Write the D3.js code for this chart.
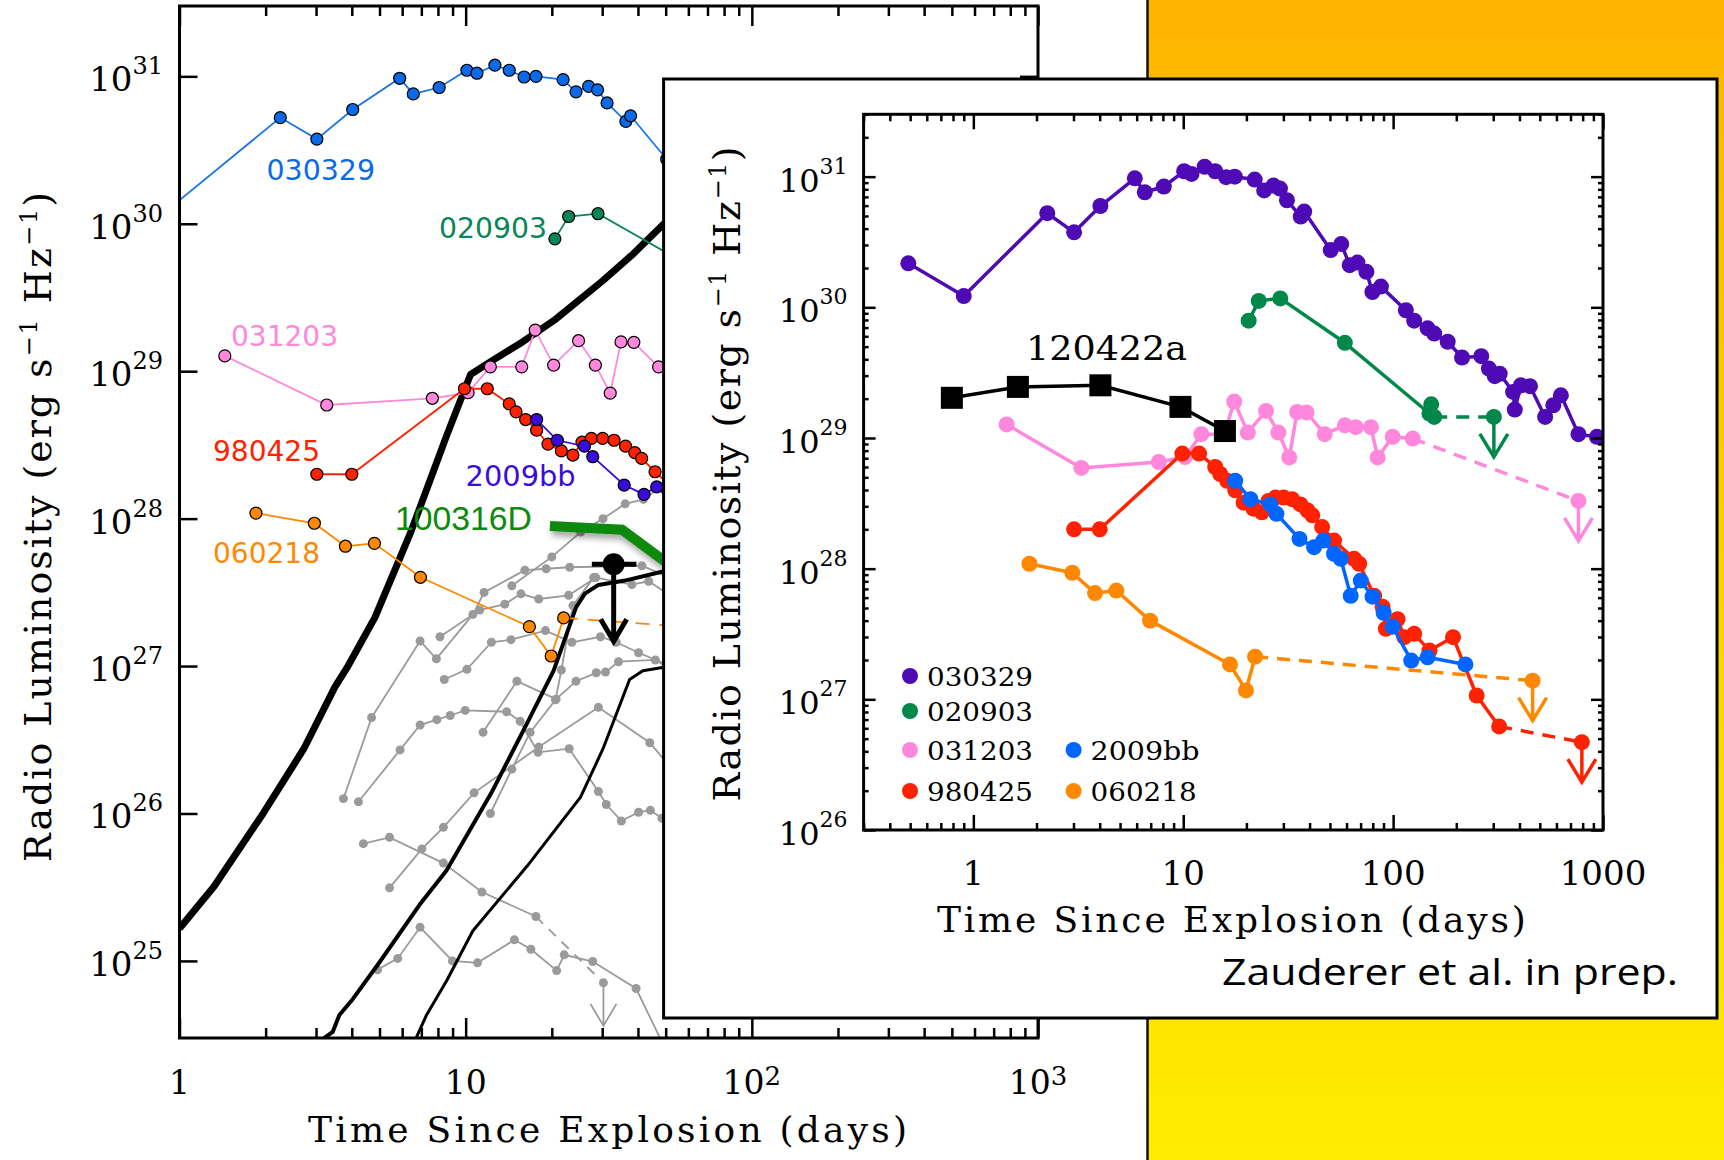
<!DOCTYPE html>
<html>
<head>
<meta charset="utf-8">
<script src="https://cdn.jsdelivr.net/npm/d3@7"></script>
<style>
body{margin:0;background:#fff}
svg{display:block}
</style>
</head>
<body>
<svg id="slide" width="1724" height="1160"></svg>
<script>
//* data: [days since explosion, radio luminosity]

var grb030329 = [[0.49,2.17e30],[0.9,1.22e30],[2.25,5.25e30],[3.02,3.75e30],[4.03,5.96e30],[5.88,9.7e30],[6.56,7.6e30],[8.08,8.4e30],[10.1,1.1e31],[10.95,1.05e31],[12.65,1.19e31],[14.2,1.1e31],[16.0,9.9e30],[17.6,1.0e31],[21.9,9.5e30],[24.3,7.85e30],[26.9,8.55e30],[28.9,8.1e30],[31.2,6.6e30],[36.3,4.95e30],[37.7,5.4e30],[50.4,2.74e30],[56.6,3.05e30],[62.1,2.1e30],[67.6,2.2e30],[74.6,1.87e30],[79.7,1.31e30],[87.5,1.44e30],[115,9.5e29],[126,7.9e29],[146,6.9e29],[157,6.3e29],[182,5.45e29],[213,4.13e29],[263,4.23e29],[286,3.4e29],[305,2.97e29],[322,3.1e29],[373,2.25e29],[380,1.65e29],[406,2.53e29],[449,2.49e29],[530,1.45e29],[580,1.78e29],[630,2.12e29],[764,1.07e29],[935,1.02e29]]
var grb020903 = [[20.5,7.9e29],[22.9,1.12e30],[29.0,1.17e30],[58.9,5.35e29],[149,1.54e29],[152,1.81e29],[157,1.45e29]]
var grb031203 = [[1.44,1.27e29],[3.27,5.9e28],[7.65,6.55e28],[10.2,7.15e28],[12.2,1.07e29],[15.7,1.07e29],[17.5,1.9e29],[20.3,1.1e29],[24.8,1.61e29],[28.4,1.1e29],[32,7.1e28],[34.9,1.58e29],[38.7,1.57e29],[47.2,1.07e29],[58.9,1.25e29],[66.4,1.21e29],[78.4,1.21e29],[84.4,7.1e28],[99.5,1.02e29],[124,9.9e28]]
var grb980425 = [[3.02,2.0e28],[4.0,2.0e28],[9.9,7.6e28],[11.9,7.6e28],[14.2,6.0e28],[15,5.3e28],[16.2,4.7e28],[17.7,3.98e28],[19.4,3.2e28],[21.6,2.88e28],[23.7,2.7e28],[25.5,3.3e28],[27.5,3.5e28],[30.1,3.5e28],[33,3.4e28],[36.2,3.1e28],[39,2.8e28],[41.2,2.56e28],[45.9,2.08e28],[52.3,1.64e28],[65.2,1.19e28],[68.9,1.09e28],[81.3,6.2e27],[89.1,5.1e27],[92.4,3.47e27],[105,4.1e27],[113,2.99e27],[126,3.17e27],[149,2.36e27],[193,2.99e27],[250,1.07e27],[320,6.2e26]]
var sn2009bb = [[17.7,4.7e28],[20.9,3.4e28],[26,3.1e28],[27.8,2.63e28],[35.8,1.69e28],[42,1.46e28],[46.5,1.64e28],[52.3,1.3e28],[56.3,1.19e28],[62.8,6.2e27],[70.1,8.1e27],[79.8,6.1e27],[90.1,4.6e27],[99.5,3.6e27],[122,1.98e27],[146,2.1e27],[221,1.85e27]]
var grb060218 = [[1.85,1.09e28],[2.96,9.3e27],[3.8,6.5e27],[4.8,6.8e27],[6.95,4.0e27],[16.7,1.85e27],[19.9,1.17e27],[22,2.12e27]]
var grb120422a = [[0.79,2.03e29],[1.63,2.46e29],[4.03,2.53e29],[9.7,1.73e29],[15.8,1.13e29]]

//* upper limits (dashed line from the last detection)
var lim020903 = [302,1.45e29]
var lim031203 = [764,3.3e28]
var lim980425 = [793,4.7e26]
var lim060218 = [462,1.39e27]

//* back figure only
var grb100316D = [[19.7,8.9e27],[35.2,8.4e27],[49.2,5.2e27],[80,3.0e27]]
var blackLimit = [32.9,4.9e27,27.6,39.5] // t, L, t low, t high
var modelThick = [[1,1.66e25],[1.32,3.2e25],[1.96,1.0e26],[2.72,2.75e26],[3.49,7.2e26],[3.88,1.0e27],[4.82,2.14e27],[6.43,8.1e27],[8.6,3.7e28],[10.4,9.5e28],[12.3,1.17e29],[15.8,1.58e29],[20.3,2.2e29],[30.1,4.1e29],[38.7,6.3e29],[49.3,1.0e30],[70,1.6e30]]
var modelA = [[3.13,2.9e24],[3.43,3.3e24],[3.62,4.3e24],[4.03,5.5e24],[5.0,9.8e24],[6.9,2.4e25],[8.57,4.1e25],[12.3,1.38e26],[16.4,4.1e26],[20.3,9.3e26],[24.3,2.5e27],[26.1,3.1e27],[29.1,3.55e27],[36,3.8e27],[49.3,4.4e27],[70,5.0e27]]
var modelB = [[6.66,2.9e24],[7.3,4.3e24],[8.57,7.3e24],[10.6,1.6e25],[16.4,4.4e25],[25.2,1.29e26],[30.2,2.75e26],[37.4,8.1e26],[41.6,9.3e26],[49.3,9.8e26],[70,1.0e27]]
var grayTracks = [
  [[3.74,1.26e26],[4.69,4.47e26],[6.93,1.48e27],[7.9,1.12e27],[10.6,2.24e27],[11.6,3.16e27],[16.1,4.47e27],[19.1,4.57e27],[23.1,4.68e27],[41.3,4.79e27],[60,3.5e27]],
  [[14.5,3.5e27],[20,5.5e27],[25.2,8.1e27],[30.2,1.0e28],[36.1,1.26e28],[41.8,1.35e28],[50,1.74e28]],
  [[8.13,1.58e27],[11.2,2.4e27],[13.7,2.63e27],[15.6,3.09e27],[18,2.85e27],[22.9,3.02e27],[28.5,3.98e27],[38.1,3.57e27],[43.6,3.76e27],[55,2.8e27]],
  [[8.42,8.1e26],[10.1,9.5e26],[12.3,1.45e27],[14.4,1.51e27],[19,1.74e27],[23.5,1.45e27],[29.6,1.58e27],[33.6,1.45e27],[40.2,1.23e27],[52,1.0e27]],
  [[5.42,3.13e25],[7.03,5.75e25],[8.36,8.05e25],[10.7,1.38e26],[18,2.82e26],[29.1,5.25e26],[44,3.02e26],[58,1.6e26]],
  [[4.22,1.2e26],[5.9,2.7e26],[6.93,3.98e26],[7.93,4.33e26],[8.83,4.62e26],[9.96,5.0e26],[13.9,4.9e26],[15.5,4.22e26],[17.9,2.6e26],[23,2.75e26],[29.1,1.41e26],[31,1.15e26],[35,8.9e25],[40.2,1.02e26],[44.2,1.05e26],[48.5,9.3e25],[60,7e25]],
  [[11.5,3.55e26],[15.1,7.9e26],[20.7,5.96e26],[24.3,7.9e26],[28.6,9.0e26],[30.8,9.1e26],[34.2,1.07e27],[46,1.1e27],[60,8e26]],
  [[12.2,1.0e26],[14.5,2.0e26],[16.8,3.55e26],[20.6,5.9e26],[21.6,9.4e26],[23.7,2.57e27],[28,3.98e27]],
  [[4.92,8.7e24],[5.79,1.04e25],[6.93,1.69e25],[8.99,1.0e25],[11,9.7e24],[14.8,1.39e25],[16.9,1.2e25],[20.8,8.6e24],[22.1,1.1e25],[27.8,9.9e24],[39.4,6.5e24],[60,1.2e24]]
]
var grayLimited = [[4.39,6.24e25],[5.42,6.89e25],[8.36,4.61e25],[11.4,2.93e25],[17.6,2.0e25]]
var grayLimit = [30.3,7.1e24]

var legendNames = ["030329","020903","031203","980425","2009bb","060218"]

var serif = "'DejaVu Serif', serif"
var sans = "'DejaVu Sans', sans-serif"

var svg = d3.select("#slide")
var defs = svg.append("defs")

//* slide background: orange panel on the right
var grad = defs.append("linearGradient").attr("id","panelGrad").attr("x1",0).attr("y1",0).attr("x2",0).attr("y2",1)
grad.append("stop").attr("offset","0").attr("stop-color","#ffb400")
grad.append("stop").attr("offset","1").attr("stop-color","#ffec00")
svg.append("rect").attr("x",1148).attr("y",0).attr("width",576).attr("height",1160).attr("fill","url(#panelGrad)")
svg.append("line").attr("x1",1147.5).attr("x2",1147.5).attr("y1",0).attr("y2",1160).attr("stroke","#111").attr("stroke-width",2.5)

var shadow = defs.append("filter").attr("id","shadow").attr("x","-20%").attr("y","-60%").attr("width","140%").attr("height","220%")
shadow.append("feDropShadow").attr("dx",2).attr("dy",5).attr("stdDeviation",3).attr("flood-color","#000").attr("flood-opacity",0.35)

//* tools
function tickSets(lo, hi){
    var major = [], minor = []
    for (var e = Math.floor(Math.log10(lo)); e <= Math.ceil(Math.log10(hi)); e++) {
        for (var m = 1; m < 10; m++) {
            var v = m * Math.pow(10, e)
            if (v < lo * 0.999 || v > hi * 1.001) continue
            if (m == 1) major.push(v); else minor.push(v)
        }
    }
    return {major: major, minor: minor}
}

function frameTicks(g, x, y, o){
    var xt = tickSets(x.domain()[0], x.domain()[1]), yt = tickSets(y.domain()[0], y.domain()[1])
    var x0 = x.range()[0], x1 = x.range()[1], y0 = y.range()[0], y1 = y.range()[1]
    var add = function(axis, tr){
        var a = g.append("g").attr("transform", tr).call(axis)
        a.select(".domain").remove()
        a.selectAll(".tick line").attr("stroke","#000").attr("stroke-width", o.tw)
    }
    add(d3.axisBottom(x).tickValues(xt.major).tickSize(-o.xMaj).tickFormat(""), "translate(0,"+y0+")")
    add(d3.axisBottom(x).tickValues(xt.minor).tickSize(-o.xMin).tickFormat(""), "translate(0,"+y0+")")
    add(d3.axisTop(x).tickValues(xt.major).tickSize(-o.xMaj).tickFormat(""), "translate(0,"+y1+")")
    add(d3.axisTop(x).tickValues(xt.minor).tickSize(-o.xMin).tickFormat(""), "translate(0,"+y1+")")
    add(d3.axisLeft(y).tickValues(yt.major).tickSize(-o.yMaj).tickFormat(""), "translate("+x0+",0)")
    add(d3.axisRight(y).tickValues(yt.major).tickSize(-o.yMaj).tickFormat(""), "translate("+x1+",0)")
    if (o.yMin) {
        add(d3.axisLeft(y).tickValues(yt.minor).tickSize(-o.yMin).tickFormat(""), "translate("+x0+",0)")
        add(d3.axisRight(y).tickValues(yt.minor).tickSize(-o.yMin).tickFormat(""), "translate("+x1+",0)")
    }
    g.append("rect").attr("x",x0).attr("y",y1).attr("width",x1-x0).attr("height",y0-y1)
        .attr("fill","none").attr("stroke","#000").attr("stroke-width",o.fw)
}

function limitArrow(g, x, y, len, arm, armH, color, w){
    g.append("path")
        .attr("d","M"+x+","+y+"V"+(y+len)+"M"+(x-arm)+","+(y+len-armH)+"L"+x+","+(y+len)+"L"+(x+arm)+","+(y+len-armH))
        .attr("fill","none").attr("stroke",color).attr("stroke-width",w)
}

function powText(g, x, y, anchor, base, exp, fs, efs, edy){
    var t = g.append("text").attr("x",x).attr("y",y).attr("text-anchor",anchor)
        .attr("font-family",serif).attr("font-size",fs).attr("fill","#000").text(base)
    if (exp) t.append("tspan").attr("dy",edy).attr("font-size",efs).text(exp)
    return t
}

function lumTitle(g, x, y, len){
    var t = g.append("text").attr("transform","translate("+x+","+y+") rotate(-90)")
        .attr("text-anchor","middle").attr("font-family",serif).attr("font-size",38)
        .attr("textLength",len).attr("lengthAdjust","spacing")
    t.append("tspan").text("Radio Luminosity (erg s")
    t.append("tspan").attr("dy",-14).attr("font-size",24).text("\u22121")
    t.append("tspan").attr("dy",14).text(" Hz")
    t.append("tspan").attr("dy",-14).attr("font-size",24).text("\u22121")
    t.append("tspan").attr("dy",14).text(")")
}

//* ================= back figure =================
var bx = d3.scaleLog().domain([1, 1000]).range([179.5, 1038])
var by = d3.scaleLog().domain([3e24, 3e31]).range([1038, 6])
var bLine = d3.line().x(function(d){return bx(d[0])}).y(function(d){return by(d[1])})

var back = svg.append("g")
defs.append("clipPath").attr("id","backClip").append("rect").attr("x",179.5).attr("y",6).attr("width",858.5).attr("height",1032)
var bplot = back.append("g").attr("clip-path","url(#backClip)")

// gray comparison sample
grayTracks.forEach(function(tr){
    bplot.append("path").attr("d",bLine(tr)).attr("fill","none").attr("stroke","#9a9a9a").attr("stroke-width",1.8)
    bplot.append("g").selectAll("circle").data(tr).enter().append("circle")
        .attr("cx",function(d){return bx(d[0])}).attr("cy",function(d){return by(d[1])}).attr("r",4.5).attr("fill","#9a9a9a")
})
bplot.append("path").attr("d",bLine(grayLimited)).attr("fill","none").attr("stroke","#9a9a9a").attr("stroke-width",1.8)
bplot.append("path").attr("d",bLine([grayLimited[grayLimited.length-1], grayLimit])).attr("fill","none")
    .attr("stroke","#9a9a9a").attr("stroke-width",1.8).attr("stroke-dasharray","10,8")
bplot.append("g").selectAll("circle").data(grayLimited.concat([grayLimit])).enter().append("circle")
    .attr("cx",function(d){return bx(d[0])}).attr("cy",function(d){return by(d[1])}).attr("r",4.5).attr("fill","#9a9a9a")
limitArrow(bplot, bx(grayLimit[0]), by(grayLimit[1]), 43, 13, 22, "#9a9a9a", 1.8)

// model curves
bplot.append("path").attr("d",bLine(modelThick)).attr("fill","none").attr("stroke","#000").attr("stroke-width",7).attr("stroke-linejoin","round")
bplot.append("path").attr("d",bLine(modelA)).attr("fill","none").attr("stroke","#000").attr("stroke-width",4).attr("stroke-linejoin","round")
bplot.append("path").attr("d",bLine(modelB)).attr("fill","none").attr("stroke","#000").attr("stroke-width",3).attr("stroke-linejoin","round")

function backSeries(data, lim, fill, stroke){
    if (lim) bplot.append("path").attr("d",bLine([data[data.length-1], lim])).attr("fill","none")
        .attr("stroke",stroke).attr("stroke-width",1.8).attr("stroke-dasharray","14,10")
    bplot.append("path").attr("d",bLine(data)).attr("fill","none").attr("stroke",stroke).attr("stroke-width",1.8)
    bplot.append("g").selectAll("circle").data(data).enter().append("circle")
        .attr("cx",function(d){return bx(d[0])}).attr("cy",function(d){return by(d[1])}).attr("r",6)
        .attr("fill",fill).attr("stroke","#000").attr("stroke-width",1.2)
}
backSeries(grb030329, null, "#0a6ae8", "#1a75ea")
backSeries(grb020903, lim020903, "#0a8555", "#0a8555")
backSeries(grb031203, lim031203, "#ff88dd", "#ff88dd")
backSeries(grb980425, lim980425, "#ff2200", "#ff2200")
backSeries(sn2009bb, null, "#3a0cdc", "#3a0cdc")
backSeries(grb060218, lim060218, "#ff8800", "#ff8800")

bplot.append("path").attr("d",bLine(grb100316D)).attr("fill","none").attr("stroke","#0b8a0b")
    .attr("stroke-width",10).attr("stroke-linejoin","miter").attr("filter","url(#shadow)")

// black upper limit with time bar
bplot.append("line").attr("x1",bx(blackLimit[2])).attr("x2",bx(blackLimit[3]))
    .attr("y1",by(blackLimit[1])).attr("y2",by(blackLimit[1])).attr("stroke","#000").attr("stroke-width",5)
bplot.append("circle").attr("cx",bx(blackLimit[0])).attr("cy",by(blackLimit[1])).attr("r",11).attr("fill","#000")
limitArrow(bplot, bx(blackLimit[0]), by(blackLimit[1]), 77, 13, 22, "#000", 5)

// labels in the back figure
var backLabels = [
    {text:"030329", x:266.5, y:180.4, len:108.5, color:"#0a6ae8"},
    {text:"020903", x:439, y:237.5, len:108, color:"#0a8555"},
    {text:"031203", x:231, y:346, len:107, color:"#ff88dd"},
    {text:"980425", x:213, y:460.7, len:107, color:"#ff2200"},
    {text:"2009bb", x:465.6, y:485.7, len:110, color:"#3a0cdc"},
    {text:"060218", x:213, y:563, len:107, color:"#ff8800"}
]
backLabels.forEach(function(l){
    back.append("text").attr("x",l.x).attr("y",l.y).attr("font-family",sans).attr("font-size",28)
        .attr("fill",l.color).attr("textLength",l.len).attr("lengthAdjust","spacingAndGlyphs").text(l.text)
})
back.append("text").attr("x",395).attr("y",530).attr("font-family","'Liberation Sans', Arial, sans-serif")
    .attr("font-size",33).attr("fill","#0b8a0b").attr("textLength",137).attr("lengthAdjust","spacingAndGlyphs").text("100316D")

frameTicks(back, bx, by, {xMaj:20, xMin:10, yMaj:18, yMin:0, tw:2.5, fw:3})

by.ticks().filter(function(v){return Math.abs(Math.log10(v) % 1) < 1e-6}).forEach(function(v){
    powText(back, 163, by(v)+15, "end", "10", String(Math.round(Math.log10(v))), 34, 24, -17)
})
;[1,10,100,1000].forEach(function(v){
    var e = Math.round(Math.log10(v))
    if (e < 2) powText(back, bx(v), 1093.5, "middle", String(v), null, 33)
    else powText(back, bx(v), 1093.5, "middle", "10", String(e), 33, 26, -9)
})
back.append("text").attr("x",607.5).attr("y",1142).attr("text-anchor","middle").attr("font-family",serif)
    .attr("font-size",36).attr("textLength",599).attr("lengthAdjust","spacing").text("Time Since Explosion (days)")
lumTitle(back, 51, 527, 670)

//* ================= inset figure =================
svg.append("rect").attr("x",663.6).attr("y",79).attr("width",1053.4).attr("height",939)
    .attr("fill","#fff").attr("stroke","#000").attr("stroke-width",3)

var ix = d3.scaleLog().domain([0.3, 1000]).range([863.6, 1603])
var iy = d3.scaleLog().domain([1e26, 3e31]).range([830, 114.3])
var iLine = d3.line().x(function(d){return ix(d[0])}).y(function(d){return iy(d[1])})

var inset = svg.append("g")
defs.append("clipPath").attr("id","insetClip").append("rect").attr("x",863.6).attr("y",114.3).attr("width",739.4).attr("height",715.7)
var iplot = inset.append("g").attr("clip-path","url(#insetClip)")

var insetColors = {"030329":"#4e0bb5","020903":"#00874a","031203":"#ff88dd","980425":"#ff2200","2009bb":"#0066ff","060218":"#ff8800"}

function insetSeries(data, lim, color){
    if (lim) {
        iplot.append("path").attr("d",iLine([data[data.length-1], lim])).attr("fill","none")
            .attr("stroke",color).attr("stroke-width",3.5).attr("stroke-dasharray","13,9")
        limitArrow(iplot, ix(lim[0]), iy(lim[1]), 40, 14, 23, color, 3.5)
    }
    iplot.append("path").attr("d",iLine(data)).attr("fill","none").attr("stroke",color).attr("stroke-width",3.5).attr("stroke-linejoin","round")
    var pts = lim ? data.concat([lim]) : data
    iplot.append("g").selectAll("circle").data(pts).enter().append("circle")
        .attr("cx",function(d){return ix(d[0])}).attr("cy",function(d){return iy(d[1])}).attr("r",8).attr("fill",color)
}
insetSeries(grb030329, null, insetColors["030329"])
insetSeries(grb020903, lim020903, insetColors["020903"])
insetSeries(grb031203, lim031203, insetColors["031203"])
insetSeries(grb980425, lim980425, insetColors["980425"])
insetSeries(sn2009bb, null, insetColors["2009bb"])
insetSeries(grb060218, lim060218, insetColors["060218"])

iplot.append("path").attr("d",iLine(grb120422a)).attr("fill","none").attr("stroke","#000").attr("stroke-width",3.5)
iplot.append("g").selectAll("rect").data(grb120422a).enter().append("rect")
    .attr("x",function(d){return ix(d[0])-11}).attr("y",function(d){return iy(d[1])-11}).attr("width",22).attr("height",22).attr("fill","#000")
inset.append("text").attr("x",1026).attr("y",360).attr("font-family",serif).attr("font-size",34)
    .attr("textLength",161).attr("lengthAdjust","spacingAndGlyphs").text("120422a")

// legend
var legendPos = [[910,676],[910,711],[910,750],[910,791],[1073.6,750],[1073.6,791]]
legendNames.forEach(function(n, i){
    var p = legendPos[i]
    inset.append("circle").attr("cx",p[0]).attr("cy",p[1]).attr("r",8).attr("fill",insetColors[n])
    inset.append("text").attr("x",p[0]+17).attr("y",p[1]+9.5).attr("font-family",serif).attr("font-size",26)
        .attr("textLength",n == "2009bb" ? 109 : 106).attr("lengthAdjust","spacingAndGlyphs").text(n)
})

frameTicks(inset, ix, iy, {xMaj:15, xMin:7, yMaj:12, yMin:5, tw:2.5, fw:3})

iy.ticks().filter(function(v){return Math.abs(Math.log10(v) % 1) < 1e-6}).forEach(function(v){
    powText(inset, 847.5, iy(v)+15, "end", "10", String(Math.round(Math.log10(v))), 32, 22, -18)
})
;[1,10,100,1000].forEach(function(v){
    powText(inset, ix(v), 885, "middle", String(v), null, 34)
})
inset.append("text").attr("x",1231.4).attr("y",932).attr("text-anchor","middle").attr("font-family",serif)
    .attr("font-size",36).attr("textLength",589).attr("lengthAdjust","spacing").text("Time Since Explosion (days)")
lumTitle(inset, 740, 474, 655)

svg.append("text").attr("x",1222).attr("y",985).attr("font-family","'Open Sans', Lato, sans-serif")
    .attr("font-size",37).attr("textLength",456).attr("lengthAdjust","spacingAndGlyphs").text("Zauderer et al. in prep.")
</script>
</body>
</html>
